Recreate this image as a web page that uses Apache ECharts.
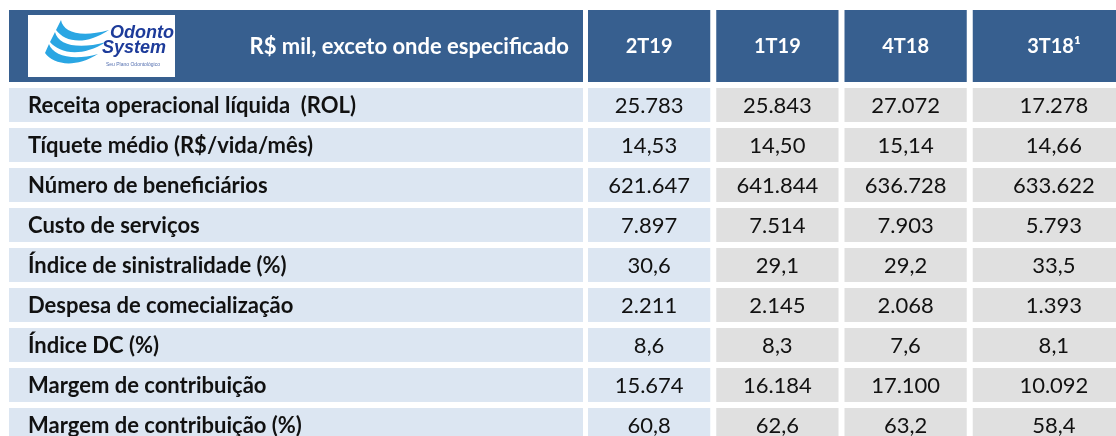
<!DOCTYPE html>
<html>
<head>
<meta charset="utf-8">
<script src="https://cdn.jsdelivr.net/npm/echarts@6/dist/echarts.min.js"></script>
<style>
  html, body { margin: 0; padding: 0; background: #fff; }
  #main { width: 1116px; height: 436px; }
</style>
</head>
<body>
<div id="main"></div>
<script>
// table content
const caption = "R$ mil, exceto onde especificado";
const columns = ["2T19", "1T19", "4T18", "3T18\u00b9"];
const rowLabels = [
  "Receita operacional líquida  (ROL)",
  "Tíquete médio (R$/vida/mês)",
  "Número de beneficiários",
  "Custo de serviços",
  "Índice de sinistralidade (%)",
  "Despesa de comecialização",
  "Índice DC (%)",
  "Margem de contribuição",
  "Margem de contribuição (%)"
];
const rowDecimals = [0, 2, 0, 0, 1, 0, 1, 0, 1];
const v2T19 = [25783, 14.53, 621647, 7897, 30.6, 2211, 8.6, 15674, 60.8];
const v1T19 = [25843, 14.50, 641844, 7514, 29.1, 2145, 8.3, 16184, 62.6];
const v4T18 = [27072, 15.14, 636728, 7903, 29.2, 2068, 7.6, 17100, 63.2];
const v3T18 = [17278, 14.66, 633622, 5793, 33.5, 1393, 8.1, 10092, 58.4];
const columnValues = [v2T19, v1T19, v4T18, v3T18];

const HEAD_BLUE = "#375f8f";
const LIGHT_BLUE = "#dce6f2";
const GREY = "#e0e0e0";
const FONT = "Lato, 'Open Sans', sans-serif";
const LOGO_FONT = "'Liberation Sans', Arial, sans-serif";
const GAP = 3;
const HEAD_TOP = 10, HEAD_H = 72;

// pt-BR number format: 25.783 / 14,53
function fmt(n, d) {
  const parts = n.toFixed(d).split(".");
  const int = parts[0].replace(/\B(?=(\d{3})+(?!\d))/g, ".");
  return parts.length > 1 ? int + "," + parts[1] : int;
}

const chart = echarts.init(document.getElementById("main"), null, { renderer: "canvas" });

function cellRect(api, extendRight) {
  const c = api.coord([api.value(0), api.value(1)]);
  const s = api.size([1, 1]);
  const x = c[0] - s[0] / 2 + GAP;
  const y = c[1] - s[1] / 2 + GAP;
  let w = s[0] - 2 * GAP;
  if (extendRight) w = chart.getWidth() + 30 - x;
  return { x: x, y: y, width: w, height: s[1] - 2 * GAP };
}

// logo drawn inside the header cell (x0, y0 = top-left of the white box)
function logo(x0, y0) {
  const swoosh = [
    "M33 5 C35 17 52 23 81 15 C57 31 37 27 28 15 Z",
    "M27 17 C30 30 50 35 78 27 C53 43 31 38 22 27 Z",
    "M21 29 C25 41 45 46 70 39 C46 54 25 49 17 38 Z"
  ];
  const kids = [
    { type: "rect", shape: { x: 0, y: 0, width: 147, height: 62 }, style: { fill: "#fff" } }
  ];
  swoosh.forEach(p => kids.push({ type: "path", shape: { pathData: p }, style: { fill: "#2aa6e3" } }));
  kids.push(
    { type: "text", style: { x: 82, y: 18, text: "Odonto", fill: "#1d3b9a", font: "italic bold 18px " + LOGO_FONT, verticalAlign: "middle" } },
    { type: "text", style: { x: 74, y: 33, text: "System", fill: "#1d3b9a", font: "italic bold 18px " + LOGO_FONT, verticalAlign: "middle" } },
    { type: "text", style: { x: 78, y: 50, text: "Seu Plano Odontológico", fill: "#5570b0", font: "5px " + LOGO_FONT, verticalAlign: "middle" } }
  );
  return { type: "group", x: x0, y: y0, children: kids };
}

// [column, row] index pairs; texts are looked up from the arrays above
const labelData = rowLabels.map((l, i) => [0, i]);
const valueData = [];
columnValues.forEach((col, ci) => {
  col.forEach((v, ri) => valueData.push([ci, ri]));
});
const headerData = columns.map((c, i) => [i, 0]);

chart.setOption({
  animation: false,
  grid: [
    { left: 6, top: 85, width: 580, height: 360, outerBoundsMode: "none" },
    { left: 585, top: 85, width: 513, height: 360, outerBoundsMode: "none" }
  ],
  xAxis: [
    { type: "category", gridIndex: 0, data: ["label"], show: false },
    { type: "category", gridIndex: 1, data: columns, show: false }
  ],
  yAxis: [
    { type: "category", gridIndex: 0, data: rowLabels, inverse: true, show: false },
    { type: "category", gridIndex: 1, data: rowLabels, inverse: true, show: false }
  ],
  series: [
    {
      // header cell over the label column, with logo and caption
      type: "custom", xAxisIndex: 0, yAxisIndex: 0, clip: false,
      data: [[0, 0]],
      renderItem: function (params, api) {
        const r = cellRect(api, false);
        return {
          type: "group",
          children: [
            { type: "rect", shape: { x: r.x, y: HEAD_TOP, width: r.width, height: HEAD_H }, style: { fill: HEAD_BLUE } },
            logo(r.x + 19, HEAD_TOP + 5),
            { type: "text", style: { x: r.x + r.width - 14, y: HEAD_TOP + HEAD_H / 2 + 1, text: caption,
              fill: "#fff", font: "bold 22px " + FONT, align: "right", verticalAlign: "middle" } }
          ]
        };
      }
    },
    {
      type: "custom", xAxisIndex: 1, yAxisIndex: 1, clip: false,
      data: headerData,
      renderItem: function (params, api) {
        const ci = api.value(0);
        const last = ci === columns.length - 1;
        const r = cellRect(api, last);
        const cx = last ? r.x + cellRect(api, false).width / 2 + 20 : r.x + r.width / 2;
        return {
          type: "group",
          children: [
            { type: "rect", shape: { x: r.x, y: HEAD_TOP, width: r.width, height: HEAD_H }, style: { fill: HEAD_BLUE } },
            { type: "text", style: { x: cx, y: HEAD_TOP + HEAD_H / 2 + 1, text: columns[ci],
              fill: "#fff", font: "bold 20px " + FONT, align: "center", verticalAlign: "middle" } }
          ]
        };
      }
    },
    {
      type: "custom", xAxisIndex: 0, yAxisIndex: 0,
      data: labelData,
      renderItem: function (params, api) {
        const r = cellRect(api, false);
        return {
          type: "group",
          children: [
            { type: "rect", shape: r, style: { fill: LIGHT_BLUE } },
            { type: "text", style: { x: r.x + 19, y: r.y + r.height / 2 + 1, text: rowLabels[api.value(1)],
              fill: "#111", font: "bold 22px " + FONT, align: "left", verticalAlign: "middle" } }
          ]
        };
      }
    },
    {
      type: "custom", xAxisIndex: 1, yAxisIndex: 1, clip: false,
      data: valueData,
      renderItem: function (params, api) {
        const ci = api.value(0);
        const ri = api.value(1);
        const last = ci === columns.length - 1;
        const r = cellRect(api, last);
        const cx = last ? r.x + cellRect(api, false).width / 2 + 20 : r.x + r.width / 2;
        return {
          type: "group",
          children: [
            { type: "rect", shape: r, style: { fill: ci === 0 ? LIGHT_BLUE : GREY } },
            { type: "text", style: { x: cx, y: r.y + r.height / 2 + 1, text: fmt(columnValues[ci][ri], rowDecimals[ri]),
              fill: "#111", font: "22px " + FONT, align: "center", verticalAlign: "middle" } }
          ]
        };
      }
    }
  ]
});
</script>
</body>
</html>
